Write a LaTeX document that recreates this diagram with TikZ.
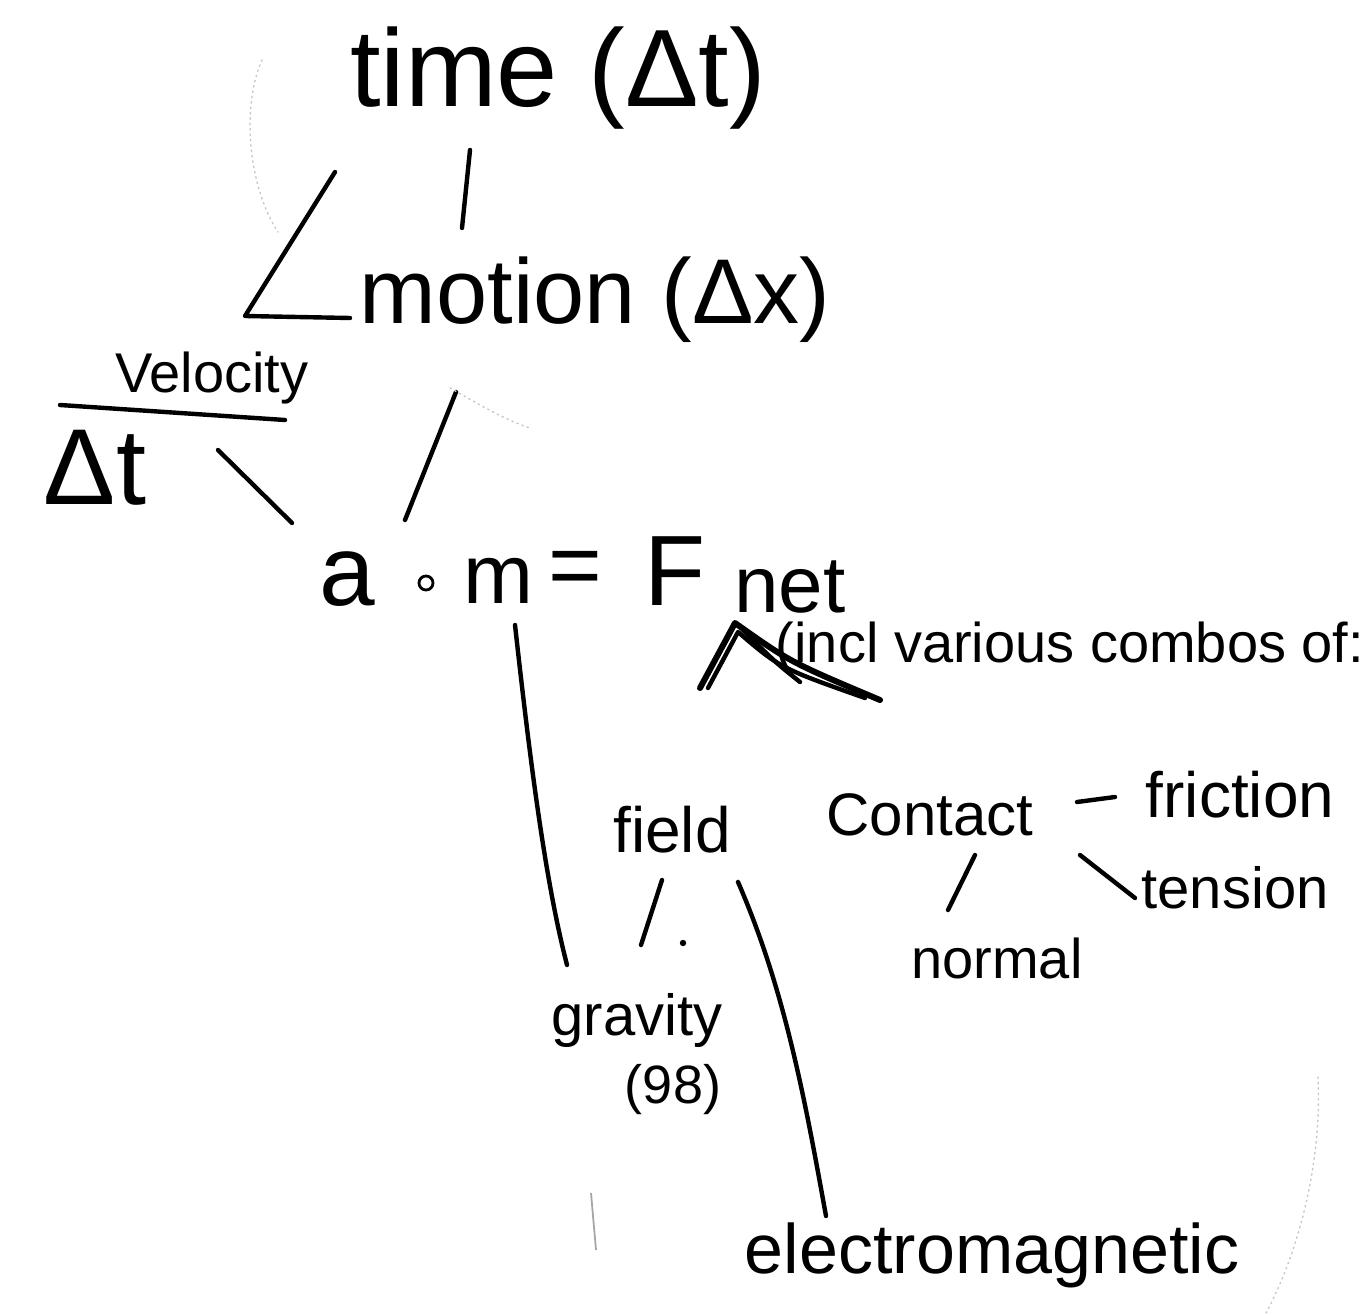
\documentclass[tikz,border=0pt]{standalone}
\usepackage{fontspec}
\setmainfont{Liberation Sans}
\begin{document}
\begin{tikzpicture}[x=0.5pt,y=-0.5pt,
  link/.style={line width=2.2pt, line cap=round, line join=round},
  faint/.style={gray!45, line width=0.7pt, dotted, line cap=round},
  lbl/.style={inner sep=0pt, anchor=center},
  eqn/.style={inner sep=0pt, anchor=base}]
\useasboundingbox (0,0) rectangle (1369,1315);
% labels
\node[lbl,font=\fontsize{55}{62}\selectfont] (time) at (558,78) {time (Δt)};
\node[lbl,font=\fontsize{46}{54}\selectfont] (motion) at (595,300) {motion (Δx)};
\node[lbl,font=\fontsize{28}{32}\selectfont] (velocity) at (212,378) {Velocity};
\node[lbl,font=\fontsize{54}{60}\selectfont] (dt) at (95,468) {Δt};
\node[eqn,font=\fontsize{50}{56}\selectfont] (a) at (347,605) {a};
\node[lbl,circle,draw,line width=1.4pt,minimum size=7pt] (circ) at (426,583) {};
\node[eqn,font=\fontsize{42}{48}\selectfont] (m) at (498,603) {m};
\node[eqn,font=\fontsize{46}{52}\selectfont] (eq) at (575,596) {=};
\node[eqn,font=\fontsize{50}{58}\selectfont] (F) at (675,605) {F};
\node[eqn,font=\fontsize{40}{46}\selectfont] (net) at (790,612) {net};
\node[lbl,font=\fontsize{28}{32}\selectfont] (incl) at (1070,648) {(incl various combos of:};
\node[lbl,font=\fontsize{32}{38}\selectfont] (field) at (672,830) {field};
\node[lbl,font=\fontsize{30}{36}\selectfont] (contact) at (930,815) {Contact};
\node[lbl,font=\fontsize{32}{38}\selectfont] (friction) at (1240,795) {friction};
\node[lbl,font=\fontsize{29}{34}\selectfont] (tension) at (1235,888) {tension};
\node[lbl,font=\fontsize{28}{34}\selectfont] (normal) at (997,958) {normal};
\node[lbl,font=\fontsize{29}{34}\selectfont] (gravity) at (637,1020) {gravity};
\node[lbl,font=\fontsize{27}{32}\selectfont] (g98) at (673,1090) {(98)};
\node[lbl,font=\fontsize{35}{42}\selectfont] (em) at (992,1255) {electromagnetic};
% connector end points
\coordinate (t1) at (470,150); \coordinate (t2) at (462,228);
\coordinate (v1) at (335,172); \coordinate (v2) at (245,316); \coordinate (v3) at (350,318);
\coordinate (u1) at (60,405); \coordinate (u2) at (285,420);
\coordinate (d1) at (218,450); \coordinate (d2) at (292,523);
\coordinate (x1) at (456,392); \coordinate (x2) at (405,520);
\coordinate (m1) at (515,625); \coordinate (m2) at (567,965);
\coordinate (apex) at (735,623);
\coordinate (fl) at (700,688); \coordinate (fr) at (880,700);
\coordinate (g1) at (662,880); \coordinate (g2) at (641,945);
\coordinate (e1) at (738,882); \coordinate (e2) at (826,1216);
\coordinate (c1) at (1077,802); \coordinate (c2) at (1115,797);
\coordinate (n1) at (975,855); \coordinate (n2) at (948,910);
\coordinate (s1) at (1080,855); \coordinate (s2) at (1135,898);
% connectors
\draw[link] (t1) -- (t2);
\draw[link] (v1) -- (v2) -- (v3);
\draw[link] (u1) -- (u2);
\draw[link] (d1) -- (d2);
\draw[link] (x1) -- (x2);
\draw[link] (m1) .. controls (530,760) and (545,880) .. (m2);
\draw[link, line width=3pt] (fl) -- (apex) .. controls (790,662) .. (fr);
\draw[link] (708,688) -- (738,632) .. controls (780,668) .. (865,698);
\draw[link] (743,630) .. controls (775,662) .. (800,682);
\draw[link] (g1) -- (g2);
\draw[link] (e1) .. controls (785,990) and (805,1100) .. (e2);
\draw[link] (c1) -- (c2);
\draw[link] (n1) -- (n2);
\draw[link] (s1) -- (s2);
% scan marks
\fill (683,943) circle (1.6pt);
\draw[gray!70, line width=0.9pt] (591,1193) -- (596,1250);
\draw[faint] (262,60) .. controls (240,110) and (250,190) .. (278,232);
\draw[faint] (450,388) .. controls (480,405) and (505,420) .. (530,428);
\draw[faint] (1318,1077) .. controls (1322,1160) and (1300,1250) .. (1265,1315);
\end{tikzpicture}
\end{document}
